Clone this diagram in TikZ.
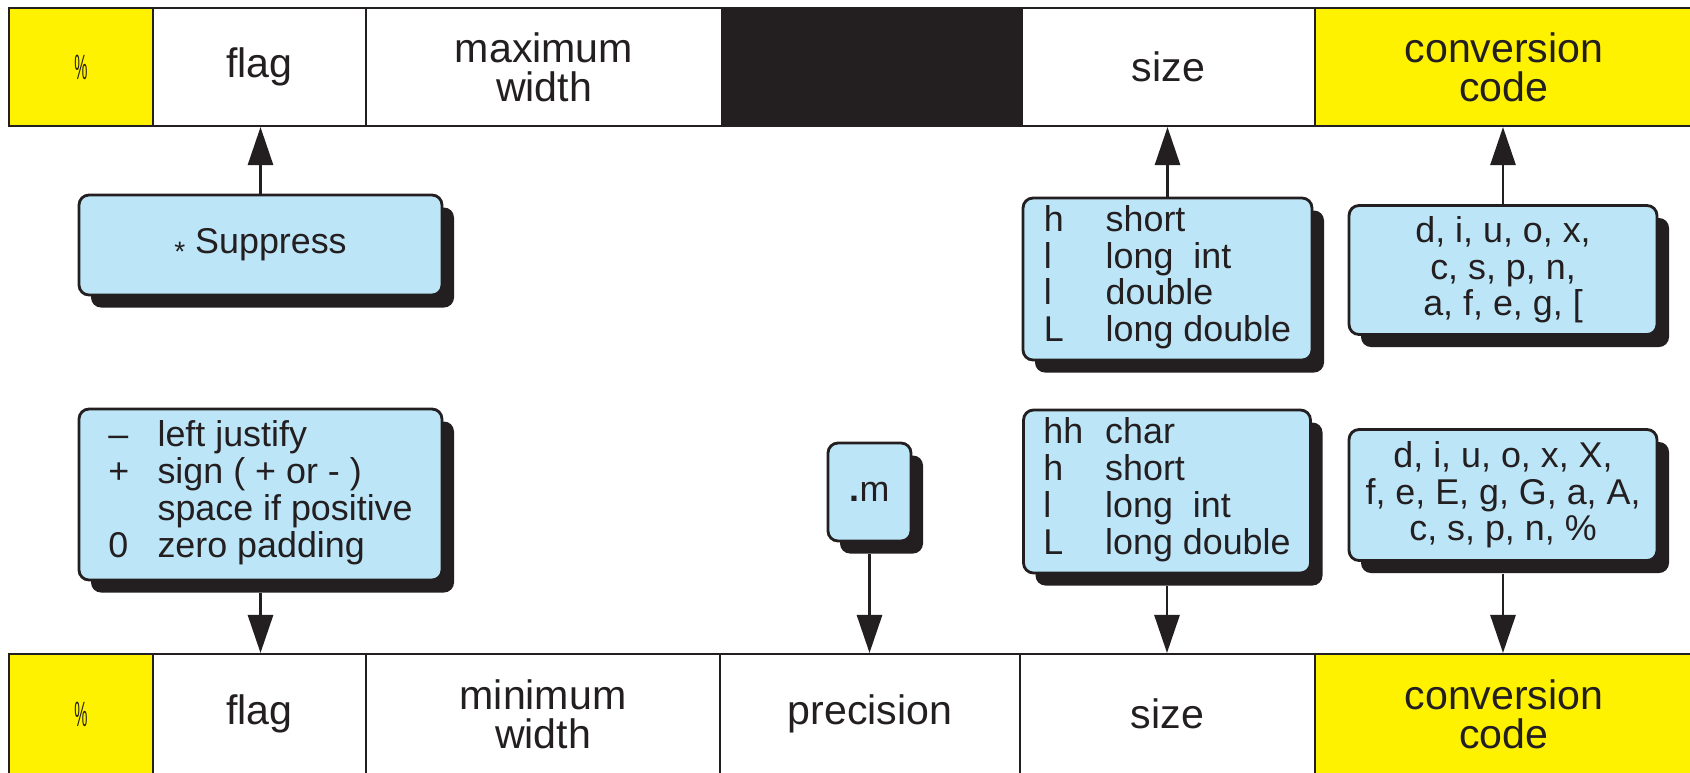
\documentclass[tikz,border=0pt]{standalone}
\usepackage{fontspec}
\setmainfont{Liberation Sans}
\usetikzlibrary{arrows.meta,shadows}
\definecolor{ink}{HTML}{231F20}
\definecolor{hilite}{HTML}{FFF200}
\definecolor{noteblue}{HTML}{BDE5F8}
\tikzset{
  cell/.style={draw=ink, line width=0.6pt, text=ink, align=center, inner sep=0pt,
    font=\fontsize{11.7}{11.2}\selectfont},
  pctcell/.style={cell, fill=hilite, font=\fontsize{10}{10}\selectfont},
  convcell/.style={cell, fill=hilite},
  notebox/.style={draw=ink, fill=noteblue, line width=0.8pt, rounded corners=1mm,
    text=ink, inner sep=0pt, align=center, font=\fontsize{10.2}{10.4}\selectfont,
    drop shadow={shadow xshift=1.2mm, shadow yshift=-1.25mm, fill=ink, opacity=1}},
  link/.style={draw=ink, line width=0.8pt, -{Triangle[length=3.8mm,width=2.5mm]}},
}
\newcommand{\pcsign}{\scalebox{0.42}[1]{\%}}
\begin{document}
\begin{tikzpicture}[x=0.1mm, y=-0.1mm]
\useasboundingbox (0,0) rectangle (1690,772);
\fill[white] (0,0) rectangle (1690,772);
\clip (0,0) rectangle (1690,772);

% upper row of fields
\node[pctcell, minimum width=14.4mm, minimum height=11.8mm] (tpct) at (81,67) {\pcsign};
\node[cell, minimum width=21.3mm, minimum height=11.8mm] (tflag) at (259.5,67) {flag};
\node[cell, minimum width=35.6mm, minimum height=11.8mm] (tmax) at (544,67) {maximum\\width};
\node[cell, fill=ink, minimum width=30mm, minimum height=11.8mm] (tblk) at (872,67) {};
\node[cell, minimum width=29.3mm, minimum height=11.8mm] (tsize) at (1168.5,67) {size};
\node[convcell, minimum width=37.8mm, minimum height=11.8mm] (tconv) at (1504,67) {conversion\\code};

% lower row of fields
\node[pctcell, minimum width=14.4mm, minimum height=12mm] (bpct) at (81,714) {\pcsign};
\node[cell, minimum width=21.3mm, minimum height=12mm] (bflag) at (259.5,714) {flag};
\node[cell, minimum width=35.4mm, minimum height=12mm] (bmin) at (543,714) {minimum\\width};
\node[cell, minimum width=30mm, minimum height=12mm] (bprec) at (870,714) {precision};
\node[cell, minimum width=29.5mm, minimum height=12mm] (bsize) at (1167.5,714) {size};
\node[convcell, minimum width=37.8mm, minimum height=12mm] (bconv) at (1504,714) {conversion\\code};

% option boxes for the upper row
\node[notebox, minimum width=36.3mm, minimum height=10mm] (supp) at (260.5,245)
  {\raisebox{-0.45ex}{\fontsize{8}{8}\selectfont *}\ Suppress};
\node[notebox, minimum width=28.9mm, minimum height=16.2mm] (sizeA) at (1167.5,279)
  {\begin{tabular}{@{}p{17.6pt}@{}l@{}}
   h & short\\ l & long\ \ int\\ l & double\\ L & long double\end{tabular}};
\node[notebox, minimum width=30.8mm, minimum height=12.9mm] (convA) at (1503,270)
  {d, i, u, o, x,\\ c, s, p, n,\\ a, f, e, g, [};

% option boxes for the lower row
\node[notebox, minimum width=36.3mm, minimum height=17.1mm] (flagB) at (260.5,494.5)
  {\raisebox{-1pt}{\begin{tabular}{@{}p{14pt}@{}l@{}}
   \textendash & left justify\\ + & sign ( + or - )\\ & space if positive\\ 0 & zero padding\end{tabular}}};
\node[notebox, minimum width=8.3mm, minimum height=9.8mm] (mB) at (869.5,492)
  {\raisebox{-0.9pt}{\textbf{.}m}};
\node[notebox, minimum width=28.7mm, minimum height=16.3mm] (sizeB) at (1167,491.5)
  {\raisebox{-2.3pt}{\begin{tabular}{@{}p{17.6pt}@{}l@{}}
   hh & char\\ h & short\\ l & long\ \ int\\ L & long double\end{tabular}}};
\node[notebox, minimum width=30.8mm, minimum height=13.1mm] (convB) at (1503,495)
  {d, i, u, o, x, X,\\ f, e, E, g, G, a, A,\\ c, s, p, n, \%};

% connectors
\draw[link] (supp.north) -- (supp.north |- tflag.south);
\draw[link] (sizeA.north) -- (sizeA.north |- tsize.south);
\draw[link] (convA.north) -- (convA.north |- tconv.south);
\draw[link] ([yshift=-1.2mm]flagB.south) -- (flagB.south |- bflag.north);
\draw[link] ([yshift=-1.2mm]mB.south) -- (mB.south |- bprec.north);
\draw[link] ([yshift=-1.2mm]sizeB.south) -- (sizeB.south |- bsize.north);
\draw[link] ([yshift=-1.2mm]convB.south) -- (convB.south |- bconv.north);
\end{tikzpicture}
\end{document}
